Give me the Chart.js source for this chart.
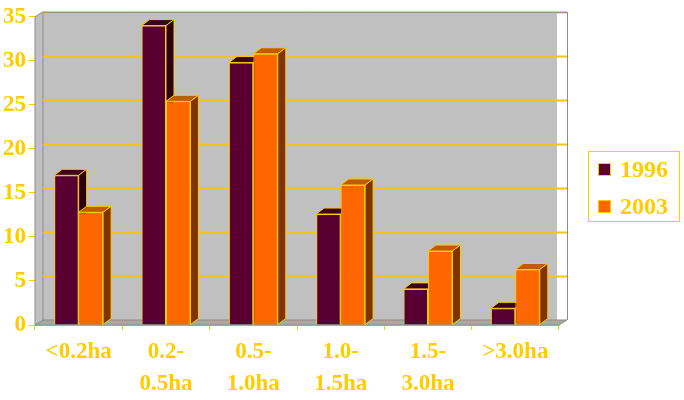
<!DOCTYPE html>
<html>
<head>
<meta charset="utf-8">
<script src="https://cdn.jsdelivr.net/npm/chart.js@4.4.0/dist/chart.umd.min.js"></script>
<style>
  html, body { margin: 0; padding: 0; background: #ffffff; }
  #wrap { width: 684px; height: 400px; }
</style>
</head>
<body>
<div id="wrap"><canvas id="chart" width="684" height="400"></canvas></div>
<script>
// ---- data ----
const categories = ['<0.2ha', ['0.2-', '0.5ha'], ['0.5-', '1.0ha'], ['1.0-', '1.5ha'], ['1.5-', '3.0ha'], '>3.0ha'];
const seriesNames = ['1996', '2003'];
const values1996 = [17, 34, 29.8, 12.6, 4.1, 1.9];
const values2003 = [12.8, 25.4, 30.8, 15.9, 8.4, 6.3];
const yTicks = [0, 5, 10, 15, 20, 25, 30, 35];

// ---- style ----
const GOLD = '#FFCC00';
const FONT = "'Liberation Serif', 'Times New Roman', serif";
const DX = 8, DY = 6;      // bar depth
const WX = 8, WY = 5;      // wall depth

const faces = [
  { front: '#5A0030', top: '#3A001E', side: '#2C0014' },
  { front: '#FF6600', top: '#C25A00', side: '#7F3300' },
];

function poly(ctx, pts, fill, stroke, lw) {
  ctx.beginPath();
  ctx.moveTo(pts[0][0], pts[0][1]);
  for (let i = 1; i < pts.length; i++) ctx.lineTo(pts[i][0], pts[i][1]);
  ctx.closePath();
  if (fill) { ctx.fillStyle = fill; ctx.fill(); }
  if (stroke) { ctx.strokeStyle = stroke; ctx.lineWidth = lw || 1; ctx.stroke(); }
}

// walls, floor and back gridlines, then bar depth faces
const walls3d = {
  id: 'walls3d',
  beforeDatasetsDraw(chart) {
    const { ctx, chartArea: a, scales } = chart;
    const L = a.left, R = a.right, T = a.top, B = a.bottom;
    ctx.save();
    // back wall
    ctx.fillStyle = '#ffffff';
    ctx.fillRect(L + WX, T - WY, R - L, B - T);
    ctx.fillStyle = '#C0C0C0';
    ctx.fillRect(L + WX, T - WY, R - L - 10, B - T);
    // left side wall
    poly(ctx, [[L, T], [L + WX, T - WY], [L + WX, B - WY], [L, B]], '#C0C0C0', '#8C8C8C', 1);
    // gridlines on back wall
    ctx.strokeStyle = '#F2C418';
    ctx.lineWidth = 2;
    yTicks.forEach(v => {
      if (v === 0) return;
      const y = Math.round(scales.y.getPixelForValue(v) - WY) + 0.5;
      ctx.beginPath();
      ctx.moveTo(L + WX, y);
      ctx.lineTo(R + WX, y);
      ctx.stroke();
    });
    // floor
    poly(ctx, [[L, B], [L + WX, B - WY], [R + WX, B - WY], [R, B]], '#A8A8A0', '#8C8C80', 1);
    // frame
    ctx.strokeStyle = '#8C8C8C';
    ctx.lineWidth = 1;
    ctx.beginPath();
    ctx.moveTo(L + WX + 0.5, T - WY + 0.5);
    ctx.lineTo(R + WX + 0.5, T - WY + 0.5);
    ctx.lineTo(R + WX + 0.5, B - WY);
    ctx.stroke();
    ctx.restore();
  },
  afterDatasetsDraw(chart) {
    const { ctx, chartArea } = chart;
    ctx.save();
    chart.data.datasets.forEach((ds, i) => {
      const f = faces[i];
      chart.getDatasetMeta(i).data.forEach(bar => {
        if (i > 0) bar.draw(ctx, chartArea); // bring front face above previous side faces
        const l = bar.x - bar.width / 2, r = bar.x + bar.width / 2;
        const y = bar.y, b = bar.base;
        poly(ctx, [[l, y], [l + DX, y - DY], [r + DX, y - DY], [r, y]], f.top, GOLD, 1);
        poly(ctx, [[r, y], [r + DX, y - DY], [r + DX, b - DY], [r, b]], f.side, GOLD, 1);
      });
    });
    ctx.restore();
  },
};

// legend box on the right
const legendBox = {
  id: 'legendBox',
  afterDraw(chart) {
    const { ctx } = chart;
    ctx.save();
    ctx.strokeStyle = GOLD;
    ctx.lineWidth = 1;
    ctx.strokeRect(588.5, 151.5, 91, 70);
    ctx.font = 'bold 24px ' + FONT;
    ctx.textBaseline = 'middle';
    chart.data.datasets.forEach((ds, i) => {
      const cy = 170 + i * 37;
      ctx.fillStyle = ds.backgroundColor;
      ctx.fillRect(598, cy - 7, 13, 13);
      ctx.strokeStyle = GOLD;
      ctx.strokeRect(598.5, cy - 6.5, 12, 12);
      ctx.fillStyle = GOLD;
      ctx.fillText(ds.label, 620, cy + 1);
    });
    ctx.restore();
  },
};

new Chart(document.getElementById('chart'), {
  type: 'bar',
  data: {
    labels: categories,
    datasets: [
      { label: seriesNames[0], data: values1996, backgroundColor: faces[0].front, borderColor: GOLD, borderWidth: 1 },
      { label: seriesNames[1], data: values2003, backgroundColor: faces[1].front, borderColor: GOLD, borderWidth: 1 },
    ],
  },
  options: {
    responsive: false,
    animation: false,
    categoryPercentage: 0.56,
    barPercentage: 1.0,
    layout: { padding: { top: 16, right: 125, left: 0, bottom: 0 } },
    scales: {
      x: {
        afterFit: (s) => { s.height = 75; },
        grid: { offset: true, drawOnChartArea: false, tickLength: 5, color: GOLD },
        border: { display: true, color: GOLD, width: 1 },
        ticks: {
          color: GOLD,
          padding: 6,
          maxRotation: 0,
          autoSkip: false,
          font: { family: FONT, size: 23, weight: 'bold', lineHeight: 1.4 },
        },
      },
      y: {
        min: 0,
        max: 35,
        afterFit: (s) => { s.width = 35; },
        afterBuildTicks: (s) => { s.ticks = yTicks.map(v => ({ value: v })); },
        grid: { drawOnChartArea: false, tickLength: 6, color: GOLD },
        border: { display: true, color: GOLD, width: 1 },
        ticks: {
          color: GOLD,
          padding: 3,
          font: { family: FONT, size: 23, weight: 'bold' },
        },
      },
    },
    plugins: {
      legend: { display: false },
      tooltip: { enabled: false },
    },
  },
  plugins: [walls3d, legendBox],
});
</script>
</body>
</html>
